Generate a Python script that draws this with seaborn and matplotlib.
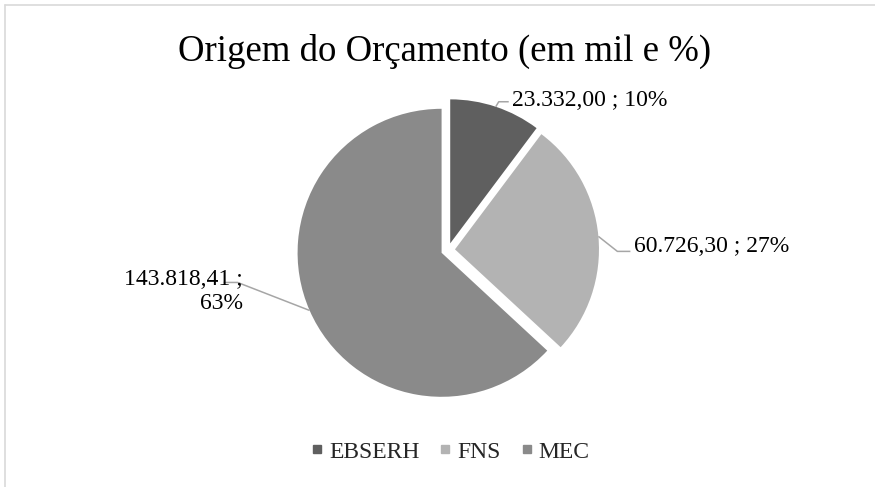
import numpy as np
import matplotlib
matplotlib.use("Agg")
import matplotlib.pyplot as plt
from matplotlib.lines import Line2D
import seaborn as sns

# data
fontes = ["EBSERH", "FNS", "MEC"]
valores = [23332.00, 60726.30, 143818.41]
cores = ["#5f5f5f", "#b3b3b3", "#8a8a8a"]

sns.set_theme(style="white")
plt.rcParams['font.family'] = ['Liberation Serif', 'DejaVu Serif']

W, H = 875, 487
fig = plt.figure(figsize=(W / 100, H / 100), dpi=100)
ax = fig.add_axes([0, 0, 1, 1])

cx, cy, raio, expl = 448, H - 250, 144, 7

wedges, _ = ax.pie(valores, colors=cores, startangle=90, counterclock=False,
                   center=(cx, cy), radius=raio, explode=[expl] * len(valores),
                   wedgeprops=dict(linewidth=0))
ax.set_xlim(0, W)
ax.set_ylim(0, H)
ax.set_aspect('auto')
ax.axis('off')


def fmt_br(v):
    s = "{:,.2f}".format(v)
    return s.replace(",", "X").replace(".", ",").replace("X", ".")


total = sum(valores)
rotulos = ["{} ; {:.0f}%".format(fmt_br(v), v / total * 100) for v in valores]
rotulos[2] = rotulos[2].replace("; ", ";\n")

# leader elbow offsets (px) and text placement (baseline of last line)
cotovelo = [(3, 5), (19, -15), (-72, 28)]
perna = [10, 13, -14]
texto_pos = [(512, H - 106, 'left'), (634, H - 252, 'left'), (243, H - 309, 'right')]

for w, (ex, ey), dx, (tx, ty, ha), rot in zip(wedges, cotovelo, perna, texto_pos, rotulos):
    tm = np.deg2rad((w.theta1 + w.theta2) / 2)
    r = raio + expl
    x0, y0 = cx + r * np.cos(tm), cy + r * np.sin(tm)
    x1, y1 = x0 + ex, y0 + ey
    ax.plot([x0, x1, x1 + dx], [y0, y1, y1], color="#a6a6a6", lw=1.1,
            solid_capstyle='butt')
    ax.text(tx, ty, rot, ha=ha, va='baseline', fontsize=17, color="black",
            multialignment='right')

ax.text(445, H - 51, "Origem do Orçamento (em mil e %)", ha='center', va='center',
        fontsize=26.5, color="black")

handles = [Line2D([], [], marker='s', linestyle='none', markersize=6,
                  markerfacecolor=c, markeredgecolor=c) for c in cores]
fig.legend(handles, fontes, loc='center', bbox_to_anchor=(451 / W, 1 - 452 / H),
           ncol=3, frameon=False, fontsize=17, handlelength=0.4,
           handletextpad=0.3, columnspacing=0.9, borderpad=0)

# chart border (top and left visible)
borda = "#d9d9d9"
fig.add_artist(Line2D([5 / W, 1], [1 - 4.5 / H, 1 - 4.5 / H], transform=fig.transFigure,
                      color=borda, lw=1.2))
fig.add_artist(Line2D([5 / W, 5 / W], [0, 1 - 4.5 / H], transform=fig.transFigure,
                      color=borda, lw=1.2))

fig.savefig("out.png", dpi=100, facecolor="white")
